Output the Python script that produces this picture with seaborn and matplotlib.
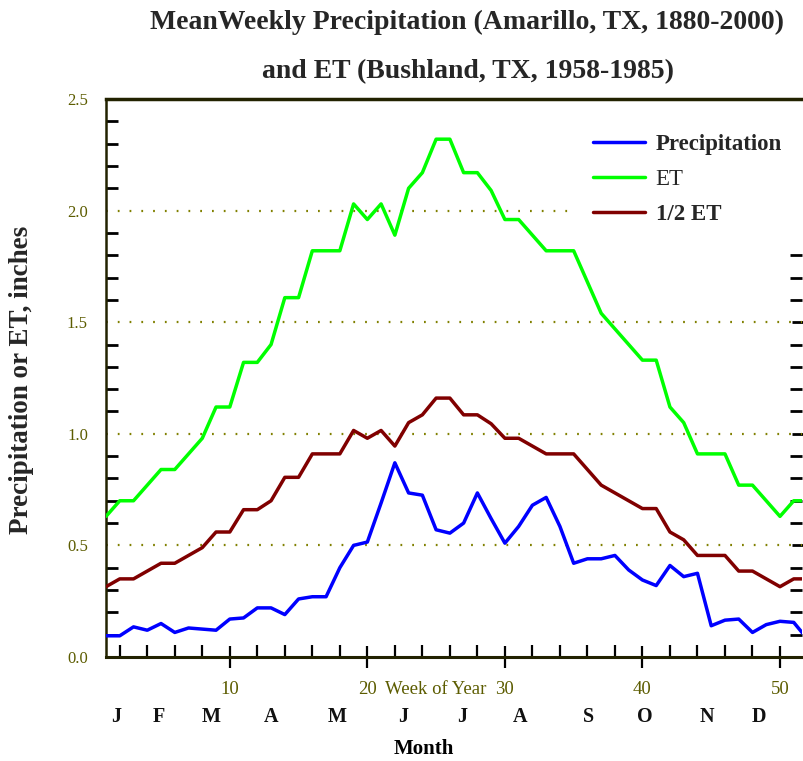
import numpy as np
import pandas as pd
import seaborn as sns
import matplotlib.pyplot as plt
from matplotlib.ticker import MultipleLocator
from matplotlib.lines import Line2D
import matplotlib.transforms as mtransforms

# weekly values
weeks = list(range(1, 53))
precip = [0.095, 0.095, 0.135, 0.12, 0.15, 0.11, 0.13, 0.125, 0.12, 0.17,
          0.175, 0.22, 0.22, 0.19, 0.26, 0.27, 0.27, 0.40, 0.50, 0.515,
          0.69, 0.87, 0.735, 0.725, 0.57, 0.555, 0.60, 0.735, 0.62, 0.51,
          0.585, 0.68, 0.715, 0.585, 0.42, 0.44, 0.44, 0.455, 0.39, 0.345,
          0.32, 0.41, 0.36, 0.375, 0.14, 0.165, 0.17, 0.11, 0.145, 0.16,
          0.155, 0.08]
et = [0.63, 0.70, 0.70, 0.77, 0.84, 0.84, 0.91, 0.98, 1.12, 1.12,
      1.32, 1.32, 1.40, 1.61, 1.61, 1.82, 1.82, 1.82, 2.03, 1.96,
      2.03, 1.89, 2.10, 2.17, 2.32, 2.32, 2.17, 2.17, 2.09, 1.96,
      1.96, 1.89, 1.82, 1.82, 1.82, 1.68, 1.54, 1.47, 1.40, 1.33,
      1.33, 1.12, 1.05, 0.91, 0.91, 0.91, 0.77, 0.77, 0.70, 0.63,
      0.70, 0.70]
half_et = [0.315, 0.35, 0.35, 0.385, 0.42, 0.42, 0.455, 0.49, 0.56, 0.56,
           0.66, 0.66, 0.70, 0.805, 0.805, 0.91, 0.91, 0.91, 1.015, 0.98,
           1.015, 0.945, 1.05, 1.085, 1.16, 1.16, 1.085, 1.085, 1.045, 0.98,
           0.98, 0.945, 0.91, 0.91, 0.91, 0.84, 0.77, 0.735, 0.70, 0.665,
           0.665, 0.56, 0.525, 0.455, 0.455, 0.455, 0.385, 0.385, 0.35, 0.315,
           0.35, 0.35]
months = ['J', 'F', 'M', 'A', 'M', 'J', 'J', 'A', 'S', 'O', 'N', 'D']
month_week = [1.75, 4.85, 8.65, 13.0, 17.8, 22.6, 26.9, 31.1, 36.1, 40.2, 44.7, 48.5]

df = pd.DataFrame({
    'week': weeks * 3,
    'value': precip + et + half_et,
    'series': ['Precipitation'] * 52 + ['ET'] * 52 + ['1/2 ET'] * 52,
})
colors = {'Precipitation': '#0000ff', 'ET': '#00ff00', '1/2 ET': '#800000'}

sns.set_style('white')
plt.rcParams['font.family'] = ['Liberation Serif', 'DejaVu Serif']

fig = plt.figure(figsize=(8.04, 7.61), dpi=100)
ax = fig.add_axes([106 / 804, 1 - 657 / 761, 696 / 804, 558 / 761])

sns.lineplot(data=df, x='week', y='value', hue='series', palette=colors,
             linewidth=2.5, legend=False, ax=ax, zorder=3)

ax.set_xlim(1, 51.6)
ax.set_ylim(0, 2.5)
ax.set_xlabel('')
ax.set_ylabel('')

olive = '#5c5c00'
ax.yaxis.set_major_locator(MultipleLocator(0.5))
ax.yaxis.set_minor_locator(MultipleLocator(0.1))
ax.xaxis.set_major_locator(MultipleLocator(10))
ax.xaxis.set_minor_locator(MultipleLocator(2))
ax.yaxis.set_major_formatter(plt.FormatStrFormatter('%.1f'))

for yv in [0.5, 1.0, 1.5, 2.0]:
    ax.axhline(yv, color='#808000', lw=1.6, linestyle=(0, (0.8, 4.5)), zorder=1)

ax.tick_params(axis='y', which='major', direction='inout', length=14, width=2,
               color='black', labelsize=12, labelcolor=olive, right=True, pad=6)
ax.tick_params(axis='y', which='minor', direction='in', length=8.5, width=2,
               color='black', left=True, right=True)
ax.tick_params(axis='x', which='major', direction='inout', length=16, width=1.6,
               color='black', labelsize=13.5, labelcolor=olive, bottom=True, pad=9)
ax.tick_params(axis='x', which='minor', direction='in', length=9, width=1.6,
               color='black', bottom=True)

for side in ['left', 'right', 'top', 'bottom']:
    ax.spines[side].set_color('#222200')
ax.spines['top'].set_linewidth(2.5)
ax.spines['bottom'].set_linewidth(2.2)
ax.spines['left'].set_linewidth(1.8)
ax.spines['right'].set_visible(False)

trans = mtransforms.blended_transform_factory(ax.transData, ax.transAxes)
ax.text(25, -0.058, 'Week of Year', transform=trans, ha='center', va='center',
        fontsize=13.5, color=olive)
for m, w in zip(months, month_week):
    ax.text(w, -0.107, m, transform=trans, ha='center', va='center',
            fontsize=14.5, fontweight='bold', color='#111111')
ax.text(24.1, -0.164, 'Month', transform=trans, ha='center', va='center',
        fontsize=15, fontweight='bold', color='black')

fig.text(22 / 804, 1 - 380 / 761, 'Precipitation or ET, inches', rotation=90,
         ha='center', va='center', fontsize=19.5, fontweight='bold')
fig.text(467 / 804, 1 - 22 / 761, 'MeanWeekly Precipitation (Amarillo, TX, 1880-2000)',
         ha='center', va='center', fontsize=20, fontweight='bold')
fig.text(468 / 804, 1 - 72 / 761, 'and ET (Bushland, TX, 1958-1985)',
         ha='center', va='center', fontsize=20, fontweight='bold')

handles = [Line2D([], [], color=colors[k], lw=2.5) for k in ['Precipitation', 'ET', '1/2 ET']]
leg = ax.legend(handles, ['Precipitation', 'ET', '1/2 ET'], loc='upper left',
                bbox_to_anchor=(0.6695, 0.975), borderaxespad=0, frameon=True,
                fancybox=False, facecolor='white', edgecolor='white', framealpha=1,
                handlelength=2.3, handletextpad=0.45, labelspacing=0.62,
                prop={'size': 16.5, 'weight': 'bold'}, borderpad=0.9)
leg.get_texts()[1].set_fontweight('normal')
leg.set_zorder(5)

fig.savefig('out.png', dpi=100)
